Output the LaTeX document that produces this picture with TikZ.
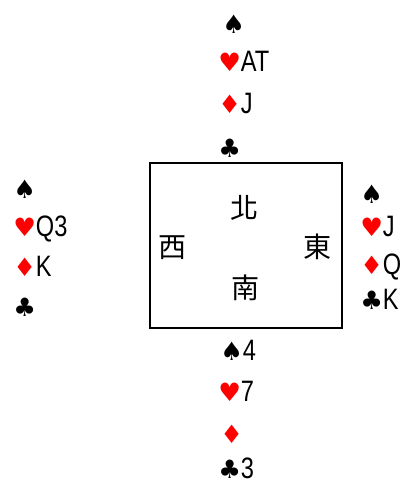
\documentclass[tikz,border=0pt]{standalone}
\usepackage{fontspec}
\newfontfamily\cjkfont{Noto Sans CJK TC}
\newfontfamily\cardfont[FakeStretch=0.8]{Liberation Sans}
\newfontfamily\suitfont{DejaVu Sans}
\usetikzlibrary{calc}

\newcommand{\Sp}{{\suitfont\fontsize{18}{22}\selectfont ♠}}
\newcommand{\Ht}{{\suitfont\fontsize{18}{22}\selectfont\color{red}♥}}
\newcommand{\Di}{{\suitfont\fontsize{18}{22}\selectfont\color{red}♦}}
\newcommand{\Cl}{{\suitfont\fontsize{18}{22}\selectfont ♣}}

\tikzset{
    card/.style={anchor=west, inner sep=0pt, text height=15pt, text depth=0pt,
        font=\cardfont\fontsize{21}{24}\selectfont},
    seat/.style={inner sep=0pt, font=\cjkfont\fontsize{20}{24}\selectfont},
}

\begin{document}
\begin{tikzpicture}[x=0.025cm, y=-0.025cm]
        \useasboundingbox (0,0) rectangle (400,482);

        \coordinate (NW) at (150,163);
        \coordinate (SE) at (342,328);
        \draw[line width=1.3pt] (NW) rectangle (SE);

        % seats
        \node[seat] (north) at (245,208) {北};
        \node[seat] (west) at (173,248) {西};
        \node[seat] (east) at (318,247) {東};
        \node[seat] (south) at (246,288) {南};

        % north hand
        \node[card] (N1) at (222,23) {\Sp};
        \node[card] (N2) at (218,61) {\Ht AT};
        \node[card] (N3) at (218,103) {\Di J};
        \node[card] (N4) at (218,147) {\Cl};

        % west hand
        \node[card] (W1) at (13,188) {\Sp};
        \node[card] (W2) at (13,226) {\Ht Q3};
        \node[card] (W3) at (13,266) {\Di K};
        \node[card] (W4) at (13,306) {\Cl};

        % east hand
        \node[card] (E1) at (360,193) {\Sp};
        \node[card] (E2) at (360,226) {\Ht J};
        \node[card] (E3) at (360,264) {\Di Q};
        \node[card] (E4) at (360,299) {\Cl K};

        % south hand
        \node[card] (S1) at (220,350) {\Sp 4};
        \node[card] (S2) at (218,391) {\Ht 7};
        \node[card] (S3) at (220,433) {\Di};
        \node[card] (S4) at (218,468) {\Cl 3};
\end{tikzpicture}
\end{document}
